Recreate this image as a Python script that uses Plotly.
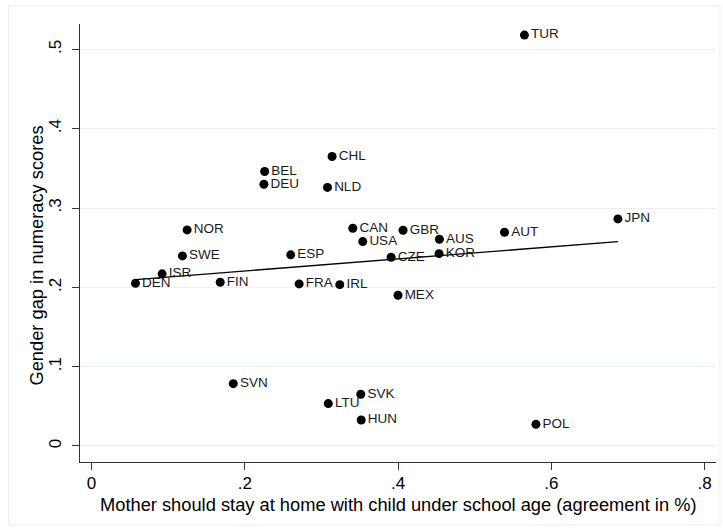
import plotly.graph_objects as go

countries = ["TUR", "JPN", "AUT", "AUS", "KOR", "GBR", "CAN", "USA", "CZE", "MEX",
             "IRL", "FRA", "ESP", "CHL", "NLD", "BEL", "DEU", "NOR", "SWE", "ISR",
             "DEN", "FIN", "SVN", "LTU", "SVK", "HUN", "POL"]
mother_home = [0.565, 0.687, 0.539, 0.454, 0.4536, 0.4066, 0.341, 0.354, 0.391, 0.400,
               0.324, 0.271, 0.260, 0.314, 0.308, 0.226, 0.225, 0.1248, 0.1187, 0.0922,
               0.0574, 0.168, 0.185, 0.309, 0.3514, 0.352, 0.580]
gender_gap = [0.518, 0.2863, 0.2695, 0.2606, 0.2425, 0.272, 0.2745, 0.2577, 0.238, 0.190,
              0.2034, 0.2043, 0.241, 0.365, 0.326, 0.346, 0.330, 0.2724, 0.2396, 0.217,
              0.205, 0.2064, 0.0786, 0.0534, 0.0652, 0.0328, 0.0273]

# fitted line (linear fit) endpoints
fit_x = [0.0574, 0.687]
fit_y = [0.2098, 0.2577]

x_ticks = [0, 0.2, 0.4, 0.6, 0.8]
x_tick_labels = ["0", ".2", ".4", ".6", ".8"]
y_ticks = [0, 0.1, 0.2, 0.3, 0.4, 0.5]
y_tick_labels = ["0", ".1", ".2", ".3", ".4", ".5"]

FONT = "Liberation Sans, Arial, sans-serif"

W, H = 723, 531
L, R, T, B = 79.5, 716, 24, 462

fig = go.Figure()
fig.add_trace(go.Scatter(
    x=fit_x, y=fit_y, mode="lines",
    line=dict(color="black", width=1.3), hoverinfo="skip", showlegend=False))
fig.add_trace(go.Scatter(
    x=mother_home, y=gender_gap, mode="markers+text", text=countries,
    textposition="middle right",
    textfont=dict(family=FONT, size=13.5, color="#1a1a1a"),
    marker=dict(color="black", size=9, line=dict(width=0)),
    showlegend=False))

fig.update_layout(
    width=W, height=H,
    margin=dict(l=L, r=W - R, t=T, b=H - B, autoexpand=False),
    paper_bgcolor="white", plot_bgcolor="white",
    font=dict(family=FONT, color="black"),
    xaxis=dict(range=[-0.015, 0.815], tickvals=x_ticks, ticktext=x_tick_labels,
               automargin=False, ticklabelstandoff=-1,
               showgrid=False, zeroline=False, showline=True, linecolor="#333333",
               linewidth=1, ticks="outside", ticklen=7, tickcolor="#333333",
               tickfont=dict(size=17, family=FONT)),
    yaxis=dict(range=[-0.0202, 0.532], tickvals=y_ticks, ticktext=y_tick_labels,
               automargin=False, ticklabelstandoff=4,
               showgrid=True, gridcolor="#E9F0F2", gridwidth=1, zeroline=False,
               showline=True, linecolor="#333333", linewidth=1, ticks="outside",
               ticklen=7, tickcolor="#333333", tickangle=-90,
               tickfont=dict(size=17, family=FONT)),
    shapes=[dict(type="rect", xref="paper", yref="paper",
                 x0=(8 - L) / (R - L), x1=(720 - L) / (R - L),
                 y0=(B - 525) / (B - T), y1=(B - 6) / (B - T),
                 line=dict(color="#E8EEF1", width=1), fillcolor="rgba(0,0,0,0)",
                 layer="below")],
    annotations=[
        dict(text="Gender gap in numeracy scores", xref="paper", yref="paper",
             x=(35 - L) / (R - L), y=(B - 256) / (B - T), textangle=-90,
             showarrow=False, font=dict(size=18.3, family=FONT),
             xanchor="center", yanchor="middle"),
        dict(text="Mother should stay at home with child under school age (agreement in %)",
             xref="paper", yref="paper",
             x=(398 - L) / (R - L), y=(B - 504) / (B - T),
             showarrow=False, font=dict(size=18.3, family=FONT),
             xanchor="center", yanchor="middle"),
    ],
)

fig.write_html("out.html", config={"displayModeBar": False},
               post_script="document.body.style.margin='0';document.body.style.padding='0';")
